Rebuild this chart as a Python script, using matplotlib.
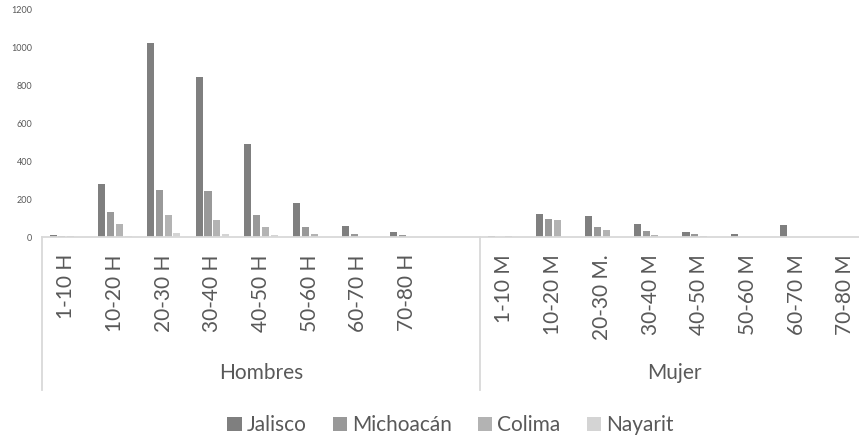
import numpy as np
import matplotlib.pyplot as plt
import matplotlib.transforms as mtransforms

plt.rcParams['font.family'] = ['Lato', 'DejaVu Sans']

# Datos
hombres_labels = ["1-10 H", "10-20 H", "20-30 H", "30-40 H", "40-50 H", "50-60 H", "60-70 H", "70-80 H"]
mujer_labels = ["1-10 M", "10-20 M", "20-30 M.", "30-40 M", "40-50 M", "50-60 M", "60-70 M", "70-80 M"]

series_names = ["Jalisco", "Michoacán", "Colima", "Nayarit"]
colors = ["#7f7f7f", "#999999", "#b3b3b3", "#d4d4d4"]

jalisco_h = [14, 280, 1025, 843, 491, 179, 63, 31]
michoacan_h = [8, 133, 249, 247, 116, 56, 19, 13]
colima_h = [8, 70, 119, 93, 54, 21, 4, 0]
nayarit_h = [2, 10, 25, 19, 12, 3, 1, 0]

jalisco_m = [9, 126, 114, 72, 30, 19, 68, 0]
michoacan_m = [1, 97, 53, 33, 16, 0, 0, 0]
colima_m = [8, 90, 39, 14, 9, 0, 0, 0]
nayarit_m = [0, 0, 0, 0, 0, 0, 0, 0]

series_h = [jalisco_h, michoacan_h, colima_h, nayarit_h]
series_m = [jalisco_m, michoacan_m, colima_m, nayarit_m]

# posiciones: 0-7 hombres, 8 vacío, 9-16 mujer
pos = np.array(list(range(8)) + list(range(9, 17)))
labels = hombres_labels + mujer_labels

fig = plt.figure(figsize=(8.59, 4.40), dpi=100)
ax = fig.add_axes([42 / 859, 202.5 / 440, 827.6 / 859, 228 / 440])

step = 0.181
for i, name in enumerate(series_names):
    vals = series_h[i] + series_m[i]
    ax.bar(pos + (i - 1.5) * step, vals, width=0.145, color=colors[i], label=name, zorder=2)

ax.set_xlim(-0.5, 16.5)
ax.set_ylim(0, 1200)
ax.set_yticks(range(0, 1201, 200))
ax.tick_params(axis='y', length=0, pad=7, labelsize=6.5, labelcolor="#595959")
ax.set_xticks(pos)
ax.set_xticklabels(labels, rotation=90, fontsize=15, color="#595959")
ax.tick_params(axis='x', length=0, pad=12)

for s in ["top", "right", "left"]:
    ax.spines[s].set_visible(False)
ax.spines["bottom"].set_color("#d9d9d9")
ax.spines["bottom"].set_linewidth(1.3)

trans = mtransforms.blended_transform_factory(ax.transData, ax.transAxes)
for xs in [-0.5, 8.5]:
    ax.plot([xs, xs], [0, -0.67], transform=trans, color="#d9d9d9", lw=1.3, clip_on=False)

ax.text(4.0, -0.594, "Hombres", transform=trans, ha="center", va="center", fontsize=15, color="#595959")
ax.text(12.5, -0.594, "Mujer", transform=trans, ha="center", va="center", fontsize=15, color="#595959")

fig.legend(loc="center", bbox_to_anchor=(450.5 / 859, 15 / 440), ncol=4, frameon=False,
           fontsize=15, labelcolor="#595959", handlelength=0.68, handleheight=0.68,
           handletextpad=0.25, columnspacing=1.25)

fig.savefig("out.png", dpi=100)
